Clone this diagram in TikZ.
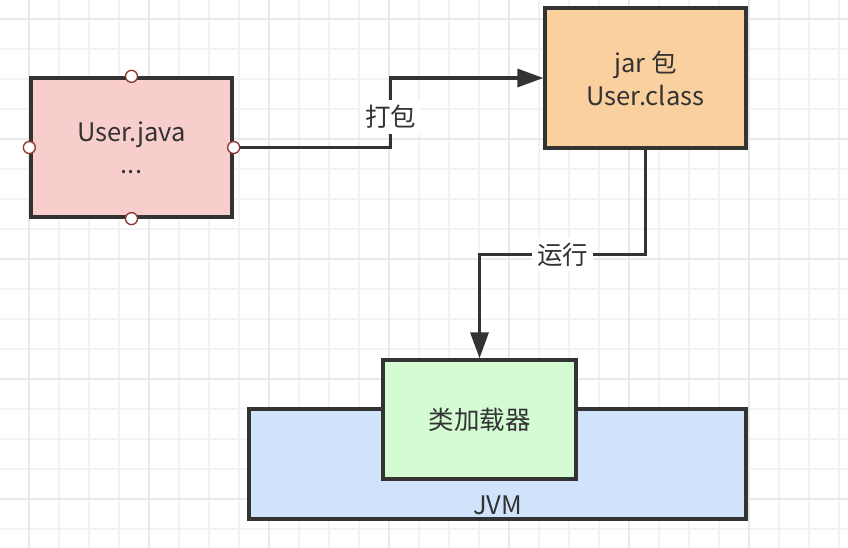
\documentclass[tikz,border=0pt]{standalone}
\usepackage{fontspec}
\setmainfont{Noto Sans CJK SC}
\usetikzlibrary{arrows.meta}

\definecolor{lineclr}{HTML}{333333}
\definecolor{portclr}{HTML}{8E3B35}
\definecolor{javaclr}{HTML}{F8CECC}
\definecolor{jarclr}{HTML}{FAD09E}
\definecolor{loaderclr}{HTML}{D5FBD3}
\definecolor{jvmclr}{HTML}{D0E3FA}
\definecolor{gridminor}{HTML}{F3F3F3}
\definecolor{gridmajor}{HTML}{E9E9E9}

\begin{document}
\begin{tikzpicture}[x=1pt,y=-1pt,>={Triangle[length=26pt,width=18pt]},
  font=\fontsize{25.5}{33}\selectfont,text=lineclr,
  box/.style={rectangle,draw=lineclr,line width=3.3pt,inner sep=0pt,align=center},
  port/.style={circle,draw=portclr,fill=white,line width=1.4pt,minimum size=12pt,inner sep=0pt},
  conn/.style={->,draw=lineclr,line width=3.3pt},
  lbl/.style={fill=white,inner sep=5pt}]
  \useasboundingbox (0,0) rectangle (848,548);
  % grid
  \foreach \x in {29,59,...,839} \draw[gridminor,line width=1.5pt] (\x,0) -- (\x,548);
  \foreach \y in {19,49,...,529} \draw[gridminor,line width=1.5pt] (0,\y) -- (848,\y);
  \foreach \x in {29,149,...,749} \draw[gridmajor,line width=1.8pt] (\x,0) -- (\x,548);
  \foreach \y in {19,139,...,499} \draw[gridmajor,line width=1.8pt] (0,\y) -- (848,\y);
  % boxes
  \node[box,fill=javaclr,minimum width=201pt,minimum height=139pt] (java) at (131.5,147.5) {User.java\\[-1pt]...};
  \node[box,fill=jarclr,minimum width=201pt,minimum height=140pt] (jar) at (645.5,78) {jar 包\\User.class};
  \node[box,fill=jvmclr,minimum width=497pt,minimum height=110pt] (jvm) at (497.5,464) {};
  \node (jvmtext) at (497.5,505) {JVM};
  \node[box,fill=loaderclr,minimum width=193pt,minimum height=119pt] (loader) at (479.5,419.5) {类加载器};
  % connectors
  \draw[conn] (java.east) -- ++(157,0) |- (jar.west) node[lbl,pos=0.22] {打包};
  \draw[conn] (jar.south) -- ++(0,105) -| (loader.north) node[lbl,pos=0.25] {运行};
  \foreach \a in {north,south,east,west} \node[port] at (java.\a) {};
\end{tikzpicture}
\end{document}
